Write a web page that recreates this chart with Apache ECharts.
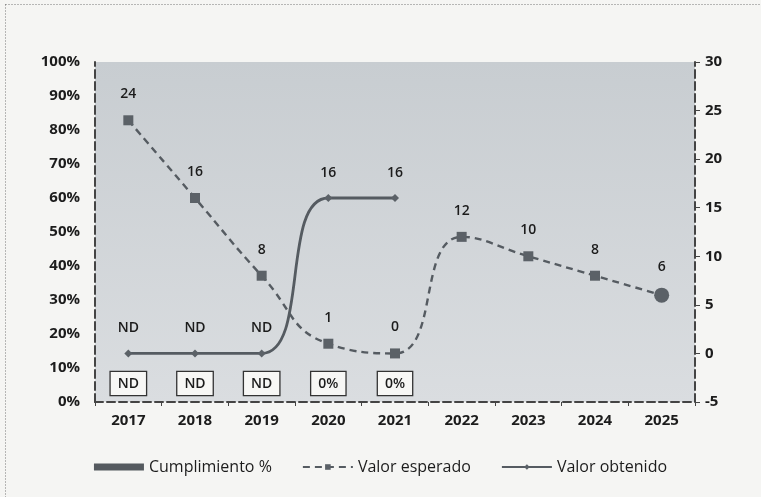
<!DOCTYPE html>
<html>
<head>
<meta charset="utf-8">
<script src="https://cdn.jsdelivr.net/npm/echarts@6/dist/echarts.min.js"></script>
<style>
  html, body { margin: 0; padding: 0; background: #f4f4f2; }
  #chart { width: 761px; height: 497px; }
</style>
</head>
<body>
<div id="chart"></div>
<script>
const years = ["2017", "2018", "2019", "2020", "2021", "2022", "2023", "2024", "2025"];
const cumplimiento = [0, 0, 0, 0, 0, null, null, null, null];
const cumplimientoLabels = ["ND", "ND", "ND", "0%", "0%"];
const esperado = [24, 16, 8, 1, 0, 12, 10, 8, 6];
const obtenido = [0, 0, 0, 16, 16, null, null, null, null];
const obtenidoLabels = ["ND", "ND", "ND", "16", "16"];

const ink = "#1c1c1c";
const lineGray = "#555b61";
const font = "'Open Sans', 'DejaVu Sans', sans-serif";

const chart = echarts.init(document.getElementById("chart"));
chart.setOption({
  backgroundColor: "#f5f5f3",
  animation: false,
  textStyle: { fontFamily: font, color: ink },
  graphic: [{
    type: "rect", left: 3, top: 2, shape: { width: 800, height: 600 },
    style: { fill: "none", stroke: "#777", lineWidth: 1, lineDash: [1, 2] }, silent: true,
  }],
  grid: {
    left: 95, right: 66, top: 62, bottom: 95, show: true, borderWidth: 0,
    backgroundColor: new echarts.graphic.LinearGradient(0, 0, 0, 1, [
      { offset: 0, color: "#c8cdd1" },
      { offset: 1, color: "#dadde0" },
    ]),
  },
  legend: {
    bottom: 17, left: "center", itemWidth: 50, itemHeight: 7, itemGap: 30,
    textStyle: { fontSize: 16, color: ink, fontFamily: font },
    data: [
      { name: "Cumplimiento %", icon: "rect" },
      { name: "Valor esperado" },
      { name: "Valor obtenido" },
    ],
  },
  xAxis: {
    type: "category", data: years,
    axisLine: { lineStyle: { color: "#444", type: "dashed", width: 2 } },
    axisTick: { show: true, length: 4, lineStyle: { color: "#444" } },
    axisLabel: { fontSize: 15, fontWeight: "bold", color: ink, margin: 11 },
  },
  yAxis: [{
    type: "value", min: 0, max: 100, interval: 10, position: "left",
    axisLine: { show: true, lineStyle: { color: "#444", type: "dashed", width: 2 } },
    axisTick: { show: false },
    splitLine: { show: false },
    axisLabel: { formatter: "{value}%", fontSize: 15, fontWeight: "bold", color: ink, margin: 15 },
  }, {
    type: "value", min: -5, max: 30, interval: 5, position: "right",
    axisLine: { show: true, lineStyle: { color: "#444", type: "dashed", width: 2 } },
    axisTick: { show: true, length: 5, lineStyle: { color: "#444" } },
    splitLine: { show: false },
    axisLabel: { fontSize: 15, fontWeight: "bold", color: ink, margin: 10 },
  }],
  series: [{
    name: "Cumplimiento %", type: "bar", yAxisIndex: 0, data: cumplimiento, barWidth: 30,
    itemStyle: { color: "#555a5f" },
    label: {
      show: true, position: "top", distance: 7,
      formatter: p => cumplimientoLabels[p.dataIndex] ?? "",
      fontSize: 14, fontWeight: 600, color: ink,
      backgroundColor: "#f7f7f5", borderColor: "#333", borderWidth: 1.3,
      padding: [5, 7, 4, 7],
    },
  }, {
    name: "Valor esperado", type: "line", yAxisIndex: 1, smooth: 0.5,
    data: esperado.map((v, i) => i === esperado.length - 1
      ? { value: v, symbol: "circle", symbolSize: 15 }
      : v),
    symbol: "rect", symbolSize: 10,
    lineStyle: { color: lineGray, width: 2.4, type: [7, 5] },
    itemStyle: { color: "#5b6167" },
    label: { show: true, position: "top", distance: 14, fontSize: 14, fontWeight: 600, color: ink },
  }, {
    name: "Valor obtenido", type: "line", yAxisIndex: 1, smooth: 0.5,
    data: obtenido, symbol: "diamond", symbolSize: 8,
    lineStyle: { color: lineGray, width: 2.8 },
    itemStyle: { color: "#5b6167" },
    label: {
      show: true, position: "top", distance: 14, fontSize: 14, fontWeight: 600, color: ink,
      formatter: p => obtenidoLabels[p.dataIndex] ?? "",
    },
  }],
});
</script>
</body>
</html>
